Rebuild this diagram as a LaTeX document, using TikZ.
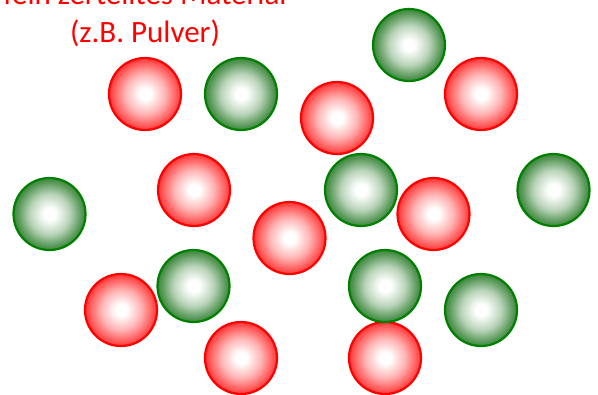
\documentclass[tikz,border=0pt]{standalone}
\usepackage{fontspec}
\setmainfont{Carlito}
\definecolor{ballred}{RGB}{255,0,0}
\definecolor{ballgreen}{RGB}{0,128,0}
\definecolor{ballgreendark}{RGB}{20,110,20}
% soft radial fills: white core fading to the rim colour
\pgfdeclareradialshading{redglow}{\pgfpoint{0bp}{0bp}}{%
  color(0bp)=(white); color(4bp)=(white); color(14bp)=(ballred!30!white);
  color(22bp)=(ballred!65!white); color(29bp)=(ballred); color(50bp)=(ballred)}
\pgfdeclareradialshading{greenglow}{\pgfpoint{0bp}{0bp}}{%
  color(0bp)=(white); color(4bp)=(white); color(14bp)=(ballgreendark!30!white);
  color(22bp)=(ballgreendark!70!white); color(29bp)=(ballgreendark); color(50bp)=(ballgreendark)}
\tikzset{
  particle/.style={circle, minimum size=72bp, inner sep=0pt, line width=2.2bp},
  redball/.style={particle, draw=ballred, shading=redglow},
  greenball/.style={particle, draw=ballgreen, shading=greenglow},
  caption/.style={text=red, font=\fontsize{31bp}{36bp}\selectfont, inner sep=0pt, anchor=base}
}
\begin{document}
\begin{tikzpicture}[x=1bp, y=-1bp]
  \useasboundingbox (0,0) rectangle (598,394);
  \clip (0,0) rectangle (598,394);
  % caption
  \node[caption] (cap1) at (145,4) {fein zerteiltes Material};
  \node[caption] (cap2) at (145,42) {(z.B. Pulver)};
  % red particles
  \node[redball] (r1) at (145,94) {};
  \node[redball] (r2) at (337,118) {};
  \node[redball] (r3) at (481,94) {};
  \node[redball] (r4) at (194,190) {};
  \node[redball] (r5) at (289.5,238) {};
  \node[redball] (r6) at (433.5,214) {};
  \node[redball] (r7) at (121,310) {};
  \node[redball] (r8) at (241,358) {};
  \node[redball] (r9) at (385,358) {};
  % green particles
  \node[greenball] (g1) at (241,94) {};
  \node[greenball] (g2) at (409,45) {};
  \node[greenball] (g3) at (361,190) {};
  \node[greenball] (g4) at (49.5,214) {};
  \node[greenball] (g5) at (553.5,190) {};
  \node[greenball] (g6) at (193.5,286) {};
  \node[greenball] (g7) at (385,286) {};
  \node[greenball] (g8) at (481,310) {};
\end{tikzpicture}
\end{document}
